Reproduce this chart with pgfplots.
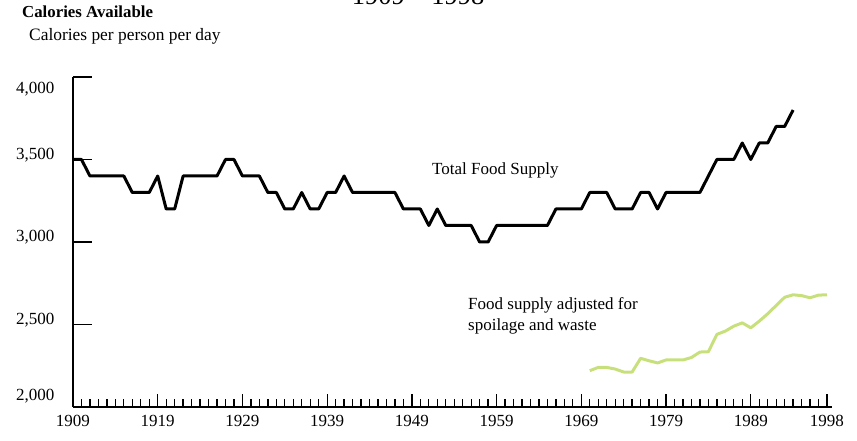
\documentclass[border=0pt]{standalone}
\usepackage{pgfplots}
\pgfplotsset{compat=1.18}
\usepackage{fontspec}
\setmainfont{Liberation Serif}
\definecolor{palelime}{RGB}{200,224,124}
\newcommand{\rl}[2]{\raisebox{#1}[11.5pt][3pt]{#2}}
\begin{document}
\begin{tikzpicture}[x=1pt,y=1pt]
\useasboundingbox (0,0) rectangle (857,441);
\node[anchor=base, font=\fontsize{26.5}{30}\selectfont, inner sep=0] at (418,436) {1909 -- 1998};
\node[anchor=base west, font=\bfseries\fontsize{16.8}{20}\selectfont, inner sep=0] at (22,423) {Calories Available};
\node[anchor=base west, font=\fontsize{17.4}{20}\selectfont, inner sep=0] at (29,400) {Calories per person per day};
\begin{axis}[
  at={(73pt,34pt)}, anchor=south west,
  scale only axis, width=754pt, height=330pt,
  xmin=1909, xmax=1998, ymin=2000, ymax=4000,
  axis lines=left, axis line style={line width=1.6pt, -},
  clip=false,
  tick align=inside,
  major tick length=13pt, minor tick length=8pt,
  xtick={1909,1919,1929,1939,1949,1959,1969,1979,1989,1998},
  xticklabels={1909,1919,1929,1939,1949,1959,1969,1979,1989,1998},
  minor xtick={1910,1911,...,1997},
  every tick/.style={black, line width=1.3pt},
  ytick={2000,2500,3000,3500,4000},
  yticklabels={{\rl{11pt}{2,000}},{\rl{4pt}{2,500}},{\rl{5pt}{3,000}},{\rl{4pt}{3,500}},{\rl{-12pt}{4,000}}},
  ytick style={draw=none},
  /pgf/number format/assume math mode=true,
  ticklabel style={font=\fontsize{17}{20}\selectfont},
  xticklabel style={yshift=-5pt},
  yticklabel style={xshift=-15pt},
]
\addplot[black, line width=3pt, line join=round] coordinates {
(1909,3500)(1910,3500)(1911,3400)(1912,3400)(1913,3400)(1914,3400)(1915,3400)
(1916,3300)(1917,3300)(1918,3300)(1919,3400)(1920,3200)(1921,3200)(1922,3400)
(1923,3400)(1924,3400)(1925,3400)(1926,3400)(1927,3500)(1928,3500)(1929,3400)
(1930,3400)(1931,3400)(1932,3300)(1933,3300)(1934,3200)(1935,3200)(1936,3300)
(1937,3200)(1938,3200)(1939,3300)(1940,3300)(1941,3400)(1942,3300)(1943,3300)
(1944,3300)(1945,3300)(1946,3300)(1947,3300)(1948,3200)(1949,3200)(1950,3200)
(1951,3100)(1952,3200)(1953,3100)(1954,3100)(1955,3100)(1956,3100)(1957,3000)
(1958,3000)(1959,3100)(1960,3100)(1961,3100)(1962,3100)(1963,3100)(1964,3100)
(1965,3100)(1966,3200)(1967,3200)(1968,3200)(1969,3200)(1970,3300)(1971,3300)
(1972,3300)(1973,3200)(1974,3200)(1975,3200)(1976,3300)(1977,3300)(1978,3200)
(1979,3300)(1980,3300)(1981,3300)(1982,3300)(1983,3300)(1984,3400)(1985,3500)
(1986,3500)(1987,3500)(1988,3600)(1989,3500)(1990,3600)(1991,3600)(1992,3700)
(1993,3700)(1994,3800)
};
\addplot[palelime, line width=3pt, line join=round] coordinates {
(1970,2220)(1971,2240)(1972,2240)(1973,2230)(1974,2212)(1975,2212)(1976,2295)
(1977,2280)(1978,2267)(1979,2285)(1980,2285)(1981,2285)(1982,2300)(1983,2333)
(1984,2335)(1985,2440)(1986,2460)(1987,2490)(1988,2510)(1989,2480)(1990,2520)
(1991,2565)(1992,2615)(1993,2665)(1994,2680)(1995,2675)(1996,2662)(1997,2678)
(1998,2680)
};
\draw[line width=1.3pt] (axis cs:1909,2500) -- ++(19pt,0pt);
\draw[line width=1.3pt] (axis cs:1909,3000) -- ++(19pt,0pt);
\draw[line width=1.3pt] (axis cs:1909,3500) -- ++(19pt,0pt);
\draw[line width=1.3pt] (axis cs:1909,4000) -- ++(19pt,0pt);
\draw[line width=1.6pt] (axis cs:1998,2000) -- ++(5pt,0pt);
\end{axis}
\node[anchor=base west, font=\fontsize{17}{20}\selectfont, inner sep=0] at (432,266) {Total Food Supply};
\node[anchor=base west, font=\fontsize{17}{20}\selectfont, inner sep=0] at (468,131) {Food supply adjusted for};
\node[anchor=base west, font=\fontsize{17}{20}\selectfont, inner sep=0] at (468,110) {spoilage and waste};
\end{tikzpicture}
\end{document}
